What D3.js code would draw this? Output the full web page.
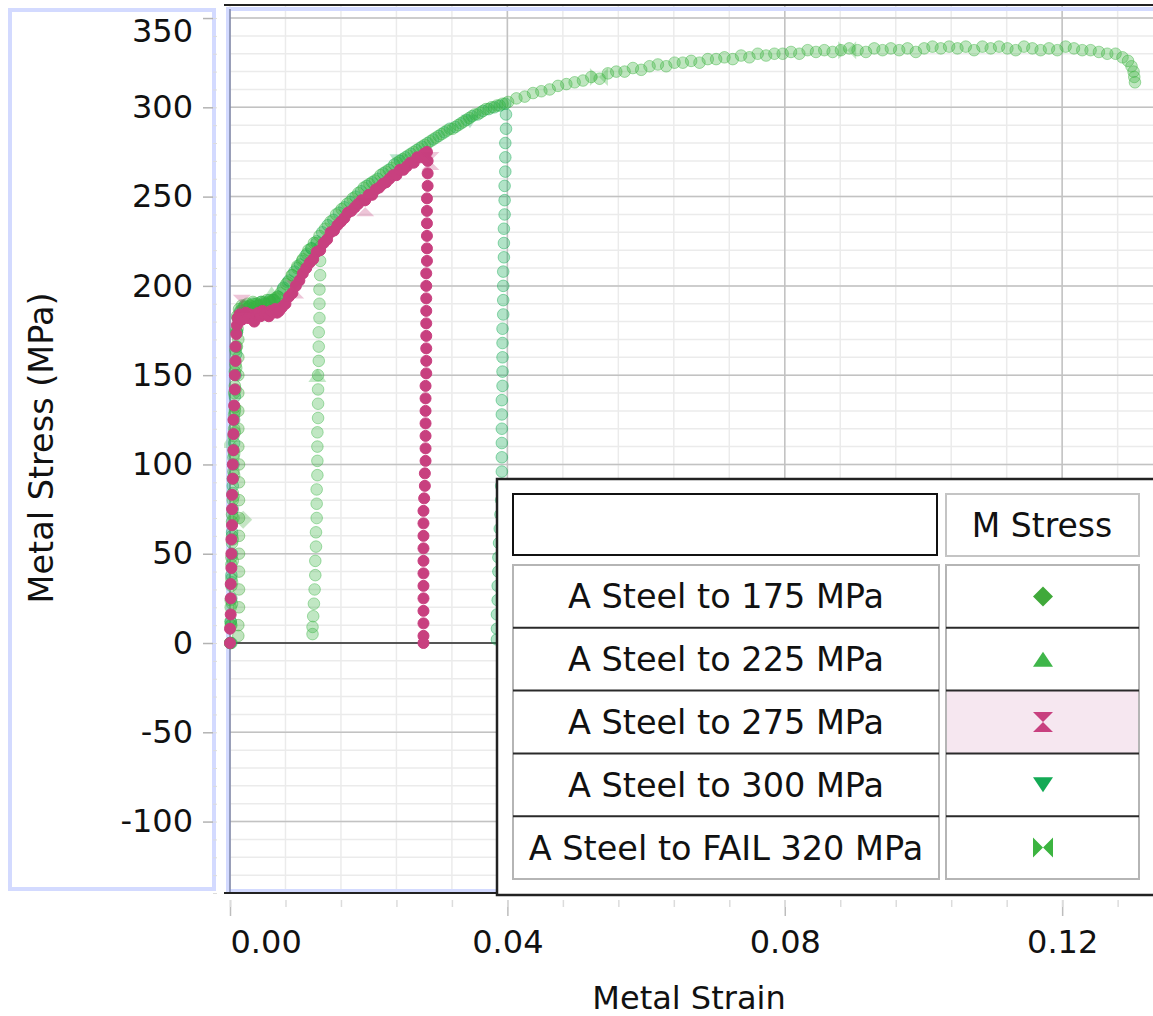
<!DOCTYPE html>
<html>
<head>
<meta charset="utf-8">
<script src="https://cdn.jsdelivr.net/npm/d3@7"></script>
<style>
    body { margin: 0; background: #fff; }
    svg { display: block; font-family: "DejaVu Sans", Verdana, sans-serif; }
</style>
</head>
<body>
<div id="chart"></div>
<script>

// ---- data (strain, stress in MPa) ----

var seriesNames = ["A Steel to 175 MPa", "A Steel to 225 MPa", "A Steel to 275 MPa",
                   "A Steel to 300 MPa", "A Steel to FAIL 320 MPa"];
var seriesColors = ["#40a93a", "#3fb64a", "#c8407f", "#13aa55", "#3cb440"];
var seriesShapes = ["diamond", "triangle", "hourglass", "triangleDown", "bowtie"];
var legendHeader = "M Stress";

var xTickValues = [0, 0.04, 0.08, 0.12];
var yTickValues = [-100, -50, 0, 50, 100, 150, 200, 250, 300, 350];

var steel175 = [
    [0.0000,0],[0.0001,12],[0.0001,24],[0.0002,36],[0.0002,48],[0.0003,60],[0.0003,72],[0.0004,84],
    [0.0005,96],[0.0005,108],[0.0006,120],[0.0007,132],[0.0007,144],[0.0008,156],[0.0009,166],[0.0010,174],
    [0.0012,170],[0.0012,160],[0.0012,150],[0.0012,140],[0.0012,130],[0.0012,120],[0.0012,110],[0.0013,100],
    [0.0013,90],[0.0013,80],[0.0013,70],[0.0013,60],[0.0013,50],[0.0013,40],[0.0013,30],[0.0013,20],
    [0.0012,10],[0.0012,4]
];

var steel225 = [
    [0.0002,0],[0.0002,10],[0.0003,22],[0.0003,34],[0.0004,46],[0.0004,58],[0.0005,70],[0.0005,82],
    [0.0006,94],[0.0006,106],[0.0007,118],[0.0007,130],[0.0008,142],[0.0009,154],[0.0010,166],[0.0011,176],
    [0.0014,185],[0.0019,188],[0.0024,187],[0.0029,189],[0.0034,188],[0.0039,190],[0.0044,189],[0.0049,191],
    [0.0054,190],[0.0059,191],[0.0064,192],[0.0069,193],
    [0.0076,198],[0.0083,202],[0.0090,206],[0.0097,210],[0.0104,214],[0.0111,218],[0.0118,221],[0.0125,224],
    [0.0130,222],
    [0.0130,214],[0.0130,206],[0.0129,198],[0.0129,190],[0.0129,182],[0.0128,174],[0.0128,166],[0.0128,158],
    [0.0127,150],[0.0127,142],[0.0127,134],[0.0127,126],[0.0126,118],[0.0126,110],[0.0126,102],[0.0126,94],
    [0.0125,86],[0.0125,78],[0.0125,70],[0.0124,62],[0.0124,54],[0.0123,46],[0.0123,38],[0.0122,30],
    [0.0121,22],[0.0120,15],[0.0119,9],[0.0119,5]
];

var steel275 = [
    [0.0000,0],[0.0000,8],[0.0001,16],[0.0001,25],[0.0001,33],[0.0002,42],[0.0002,50],[0.0002,58],
    [0.0003,66],[0.0003,75],[0.0003,83],[0.0004,92],[0.0004,100],[0.0005,108],[0.0005,117],[0.0005,125],
    [0.0006,133],[0.0007,142],[0.0007,150],[0.0008,158],[0.0008,166],[0.0009,173],[0.0010,178],
    [0.0011,182],[0.0014,184],[0.0017,181],[0.0020,183],[0.0023,185],[0.0026,182],[0.0029,184],[0.0032,183],
    [0.0035,180],[0.0038,184],[0.0041,185],[0.0044,183],[0.0047,186],[0.0050,184],[0.0053,185],[0.0056,183],
    [0.0059,186],[0.0062,185],[0.0065,187],[0.0068,185],[0.0071,186],
    [0.0075,188],[0.0080,190],[0.0085,194],[0.0090,196],[0.0095,200],[0.0100,203],[0.0105,207],[0.0110,210],
    [0.0115,213],[0.0120,215],[0.0125,219],[0.0130,220],[0.0135,224],[0.0140,226],[0.0145,230],[0.0150,231],
    [0.0155,234],[0.0160,236],[0.0165,238],[0.0170,241],[0.0175,242],[0.0180,244],[0.0185,246],[0.0190,248],
    [0.0195,248],[0.0200,251],[0.0205,251],[0.0210,254],[0.0215,255],[0.0220,257],[0.0225,258],[0.0230,260],
    [0.0235,262],[0.0240,262],[0.0245,265],[0.0250,265],[0.0255,267],[0.0260,269],[0.0265,269],[0.0270,272],
    [0.0275,272],[0.0280,274],[0.0284,275],
    [0.0285,270],[0.0285,263],[0.0285,256],[0.0284,249],[0.0284,242],[0.0284,235],[0.0284,228],[0.0284,221],
    [0.0284,214],[0.0283,207],[0.0283,200],[0.0283,193],[0.0283,186],[0.0283,179],[0.0283,172],[0.0283,165],
    [0.0283,158],[0.0283,151],[0.0282,144],[0.0282,137],[0.0282,130],[0.0282,123],[0.0282,116],[0.0282,109],
    [0.0282,102],[0.0281,95],[0.0281,88],[0.0280,81],[0.0279,74],[0.0279,67],[0.0279,60],[0.0279,53],
    [0.0279,46],[0.0279,39],[0.0279,32],[0.0279,25],[0.0279,18],[0.0279,11],[0.0279,4],[0.0279,0]
];

var steel300 = [
    [0.0001,0],[0.0001,12],[0.0002,25],[0.0002,38],[0.0003,50],[0.0003,62],[0.0004,75],[0.0004,88],
    [0.0005,100],[0.0006,112],[0.0006,125],[0.0007,138],[0.0008,150],[0.0009,162],[0.0010,174],[0.0011,182],
    [0.0015,186],[0.0021,189],[0.0027,188],[0.0033,190],[0.0039,189],[0.0045,191],[0.0051,190],[0.0057,192],
    [0.0063,192],[0.0069,194],
    [0.0077,199],[0.0085,203],[0.0093,208],[0.0101,212],[0.0109,217],[0.0117,221],[0.0125,225],[0.0133,230],
    [0.0141,234],[0.0149,237],[0.0157,241],[0.0165,244],[0.0173,247],[0.0181,250],[0.0189,253],[0.0197,256],
    [0.0205,258],[0.0213,260],[0.0221,263],[0.0229,265],[0.0237,268],[0.0245,270],[0.0253,272],[0.0261,274],
    [0.0269,276],[0.0277,278],[0.0285,280],[0.0293,282],[0.0301,284],[0.0309,286],[0.0317,288],[0.0325,289],
    [0.0333,291],[0.0341,293],[0.0349,295],[0.0357,296],[0.0365,298],[0.0373,299],[0.0381,300],[0.0389,301],
    [0.0397,302],
    [0.0398,296],[0.0398,288],[0.0397,280],[0.0397,272],[0.0397,264],[0.0396,256],[0.0396,248],[0.0396,240],
    [0.0395,232],[0.0395,224],[0.0395,216],[0.0394,208],[0.0394,200],[0.0394,192],[0.0394,184],[0.0393,176],
    [0.0393,168],[0.0393,160],[0.0393,152],[0.0393,144],[0.0392,136],[0.0392,128],[0.0392,120],[0.0392,112],
    [0.0392,104],[0.0392,96],[0.0391,88],[0.0391,80],[0.0390,72],[0.0389,64],[0.0388,56],[0.0387,48],
    [0.0387,40],[0.0386,32],[0.0386,24],[0.0385,16],[0.0385,8],[0.0385,2]
];

var steelFail = [
    [0.0000,0],[0.0001,10],[0.0001,20],[0.0002,32],[0.0002,44],[0.0003,56],[0.0003,68],[0.0004,80],
    [0.0004,92],[0.0005,104],[0.0005,116],[0.0006,128],[0.0006,140],[0.0007,152],[0.0008,164],[0.0009,175],
    [0.0010,183],
    [0.0013,187],[0.0017,189],[0.0021,188],[0.0025,190],[0.0029,189],[0.0033,191],[0.0037,190],[0.0041,189],
    [0.0045,191],[0.0049,190],[0.0053,192],[0.0057,191],[0.0061,192],[0.0065,193],[0.0069,194],
    [0.0073,196],[0.0081,201],[0.0089,206],[0.0097,211],[0.0105,215],[0.0113,220],[0.0121,224],[0.0129,228],
    [0.0137,232],[0.0145,236],[0.0153,240],[0.0161,243],[0.0169,246],[0.0177,249],[0.0185,252],[0.0193,255],
    [0.0201,257],[0.0209,259],[0.0217,262],[0.0225,264],[0.0233,266],[0.0241,269],[0.0249,271],[0.0257,273],
    [0.0265,275],[0.0273,277],[0.0281,279],[0.0289,281],[0.0297,283],[0.0305,285],[0.0313,287],[0.0321,288],
    [0.0329,290],[0.0337,292],[0.0345,294],[0.0353,296],[0.0361,297],[0.0369,299],[0.0377,300],[0.0385,301],
    [0.0393,302],[0.0401,303],
    [0.0413,305],[0.0425,306],[0.0437,308],[0.0449,309],[0.0461,310],[0.0473,312],[0.0485,313],[0.0497,314],
    [0.0509,315],[0.0521,317],[0.0533,316],[0.0545,319],[0.0557,320],[0.0569,320],[0.0581,322],[0.0593,321],
    [0.0605,323],[0.0617,324],[0.0629,323],[0.0641,325],[0.0653,325],[0.0665,326],[0.0677,325],[0.0689,327],
    [0.0701,327],[0.0713,328],[0.0725,327],[0.0737,329],[0.0749,328],[0.0761,330],[0.0773,329],[0.0785,330],
    [0.0797,330],[0.0809,331],[0.0821,330],[0.0833,332],[0.0845,331],[0.0857,332],[0.0869,331],[0.0881,332],
    [0.0893,333],[0.0905,332],[0.0917,331],[0.0929,333],[0.0941,332],[0.0953,333],[0.0965,332],[0.0977,333],
    [0.0989,331],[0.1001,333],[0.1013,334],[0.1025,333],[0.1037,334],[0.1049,333],[0.1061,334],[0.1073,332],
    [0.1085,334],[0.1097,333],[0.1109,334],[0.1121,333],[0.1133,332],[0.1145,334],[0.1157,333],[0.1169,332],
    [0.1181,333],[0.1193,332],[0.1205,334],[0.1217,333],[0.1229,332],[0.1241,332],[0.1253,331],[0.1265,330],
    [0.1277,330],[0.1287,328],[0.1295,326],[0.1300,323],[0.1303,320],[0.1304,317],[0.1305,314]
];

// the occasional shape markers that show through the circles
var marks175 = [[0.0019,69]];
var marks225 = [[0.0126,150],[0.0000,113],[0.0060,196]];
var marks275 = [[0.0017,190],[0.0094,198],[0.0195,244],[0.0289,270]];
var marks300 = [[0.0243,270],[0.0346,292]];
var marksFail = [[0.0532,317],[0.0890,332]];

var allSeries = [steel175, steel225, steel275, steel300, steelFail];
var allMarks = [marks175, marks225, marks275, marks300, marksFail];


// ---- layout ----

var width = 1153, height = 1016;
var plot = { left: 230, right: 1153, top: 5, bottom: 893 };

var svg = d3.select("#chart").append("svg")
    .attr("width", width)
    .attr("height", height);

var x = d3.scaleLinear().domain([0, 0.1331]).range([plot.left, plot.right]);
var y = d3.scaleLinear().domain([-140, 357.3]).range([plot.bottom, plot.top]);


/*
 *  Symbol paths used by the legend and the plot markers
 */
function shapePath(shape, s) {
    if (shape == "diamond") return "M0," + (-s) + "L" + s + ",0L0," + s + "L" + (-s) + ",0Z";
    if (shape == "triangle") return "M0," + (-0.75 * s) + "L" + s + "," + (0.75 * s) + "L" + (-s) + "," + (0.75 * s) + "Z";
    if (shape == "triangleDown") return "M" + (-s) + "," + (-0.75 * s) + "L" + s + "," + (-0.75 * s) + "L0," + (0.75 * s) + "Z";
    if (shape == "hourglass") return "M" + (-s) + "," + (-s) + "L" + s + "," + (-s) + "L0,0Z" +
                                     "M" + (-s) + "," + s + "L" + s + "," + s + "L0,0Z";
    // bowtie
    return "M" + (-s) + "," + (-s) + "L" + (-s) + "," + s + "L0,0Z" +
           "M" + s + "," + (-s) + "L" + s + "," + s + "L0,0Z";
}


// ---- grid ----

var minorX = d3.range(0, 0.1331, 0.008);
var minorY = d3.range(-140, 357, 10);

var grid = svg.append("g");

grid.selectAll(".gx-minor").data(minorX).enter().append("line")
    .attr("x1", function (d) { return x(d); }).attr("x2", function (d) { return x(d); })
    .attr("y1", plot.top).attr("y2", plot.bottom)
    .attr("stroke", "#ebebeb").attr("stroke-width", 1.5);

grid.selectAll(".gy-minor").data(minorY).enter().append("line")
    .attr("x1", plot.left).attr("x2", plot.right)
    .attr("y1", function (d) { return y(d); }).attr("y2", function (d) { return y(d); })
    .attr("stroke", "#ebebeb").attr("stroke-width", 1.5);

grid.selectAll(".gx-major").data(xTickValues.slice(1)).enter().append("line")
    .attr("x1", function (d) { return x(d); }).attr("x2", function (d) { return x(d); })
    .attr("y1", plot.top).attr("y2", plot.bottom)
    .attr("stroke", "#c2c2c2").attr("stroke-width", 1.5);

grid.selectAll(".gy-major").data(yTickValues.filter(function (d) { return d != 0; })).enter().append("line")
    .attr("x1", plot.left).attr("x2", plot.right)
    .attr("y1", function (d) { return y(d); }).attr("y2", function (d) { return y(d); })
    .attr("stroke", "#c2c2c2").attr("stroke-width", 1.5);

// zero reference line
grid.append("line")
    .attr("x1", plot.left).attr("x2", plot.right)
    .attr("y1", y(0)).attr("y2", y(0))
    .attr("stroke", "#222").attr("stroke-width", 1.5);


// ---- frame ----

svg.append("rect")
    .attr("x", 228).attr("y", 9)
    .attr("width", 940).attr("height", 882)
    .attr("fill", "none").attr("stroke", "#d3daff").attr("stroke-width", 4);

svg.append("rect")
    .attr("x", 10).attr("y", 10)
    .attr("width", 204).attr("height", 879)
    .attr("fill", "none").attr("stroke", "#d3daff").attr("stroke-width", 4);

svg.append("line")
    .attr("x1", plot.left).attr("x2", plot.left)
    .attr("y1", 9).attr("y2", plot.bottom)
    .attr("stroke", "#7d84a6").attr("stroke-width", 1.5);

svg.append("line")
    .attr("x1", 224).attr("x2", width)
    .attr("y1", plot.top).attr("y2", plot.top)
    .attr("stroke", "#222").attr("stroke-width", 2);

svg.append("line")
    .attr("x1", 224).attr("x2", width)
    .attr("y1", plot.bottom).attr("y2", plot.bottom)
    .attr("stroke", "#222").attr("stroke-width", 2);


// ---- data marks ----

svg.append("clipPath").attr("id", "plotClip")
    .append("rect")
    .attr("x", 224).attr("y", plot.top)
    .attr("width", width - 224).attr("height", plot.bottom - plot.top);

var marksLayer = svg.append("g").attr("clip-path", "url(#plotClip)");

// green series first, the selected magenta series on top
[0, 1, 3, 4, 2].forEach(function (i) {
    var selected = (i == 2);
    var g = marksLayer.append("g");

    g.selectAll("circle").data(allSeries[i]).enter().append("circle")
        .attr("cx", function (d) { return x(d[0]); })
        .attr("cy", function (d) { return y(d[1]); })
        .attr("r", selected ? 5.5 : 5.8)
        .attr("fill", seriesColors[i])
        .attr("fill-opacity", selected ? 1 : 0.33)
        .attr("stroke", seriesColors[i])
        .attr("stroke-opacity", selected ? 1 : 0.45)
        .attr("stroke-width", 1);

    g.selectAll("path").data(allMarks[i]).enter().append("path")
        .attr("transform", function (d) { return "translate(" + x(d[0]) + "," + y(d[1]) + ")"; })
        .attr("d", shapePath(seriesShapes[i], 9))
        .attr("fill", seriesColors[i])
        .attr("fill-opacity", 0.3);
});


// ---- axes ----

var yAxis = svg.append("g")
    .attr("transform", "translate(213,0)")
    .call(d3.axisLeft(y).tickValues(yTickValues).tickSize(10).tickPadding(10)
        .tickFormat(function (d) { return String(d); }));

yAxis.select(".domain").remove();
yAxis.selectAll(".tick line").attr("stroke", "#b3b3b3").attr("stroke-width", 1.5);
yAxis.selectAll(".tick text")
    .attr("font-size", 32).attr("font-family", "DejaVu Sans").attr("fill", "#111")
    .attr("y", function (d) { return d == 350 ? 13 : 0; });

var yMinor = svg.append("g")
    .attr("transform", "translate(217,0)")
    .call(d3.axisLeft(y).tickValues(minorY).tickSize(4).tickFormat(""));
yMinor.select(".domain").remove();
yMinor.selectAll(".tick line").attr("stroke", "#dcdcdc");

var xAxis = svg.append("g")
    .attr("transform", "translate(0,900)")
    .call(d3.axisBottom(x).tickValues(xTickValues).tickSize(16).tickPadding(14)
        .tickFormat(d3.format(".2f")));

xAxis.select(".domain").remove();
xAxis.selectAll(".tick line").attr("stroke", "#bdbdbd").attr("stroke-width", 1.5);
xAxis.selectAll(".tick text")
    .attr("font-size", 32).attr("font-family", "DejaVu Sans").attr("fill", "#111")
    .attr("text-anchor", function (d) { return d == 0 ? "start" : "middle"; });

var xMinor = svg.append("g")
    .attr("transform", "translate(0,900)")
    .call(d3.axisBottom(x).tickValues(minorX).tickSize(7).tickFormat(""));
xMinor.select(".domain").remove();
xMinor.selectAll(".tick line").attr("stroke", "#dcdcdc").attr("stroke-width", 1.5);

svg.append("text")
    .attr("x", 689).attr("y", 1009)
    .attr("text-anchor", "middle")
    .attr("font-size", 32).attr("fill", "#111")
    .text("Metal Strain");

svg.append("text")
    .attr("transform", "translate(53,448) rotate(-90)")
    .attr("text-anchor", "middle")
    .attr("font-size", 33.5).attr("fill", "#111")
    .text("Metal Stress (MPa)");


// ---- legend table ----

var legend = svg.append("g");

legend.append("rect")
    .attr("x", 497).attr("y", 479)
    .attr("width", 700).attr("height", 416)
    .attr("fill", "#fff").attr("stroke", "#222").attr("stroke-width", 2.5);

// header cells
legend.append("rect")
    .attr("x", 513).attr("y", 494).attr("width", 424).attr("height", 61)
    .attr("fill", "#fff").attr("stroke", "#111").attr("stroke-width", 2);

legend.append("rect")
    .attr("x", 946).attr("y", 494).attr("width", 193).attr("height", 62)
    .attr("fill", "#fff").attr("stroke", "#c4c4c4").attr("stroke-width", 2);

legend.append("text")
    .attr("x", 1042).attr("y", 525)
    .attr("dy", "0.36em")
    .attr("text-anchor", "middle")
    .attr("font-size", 33).attr("fill", "#111")
    .text(legendHeader);

var rows = d3.scaleBand().domain(seriesNames).range([565, 879]);

// highlighted cell of the selected series
legend.append("rect")
    .attr("x", 946).attr("y", rows(seriesNames[2]))
    .attr("width", 193).attr("height", rows.bandwidth())
    .attr("fill", "#f6e7f0");

// column outlines
[[513, 426], [946, 193]].forEach(function (c) {
    legend.append("rect")
        .attr("x", c[0]).attr("y", 565).attr("width", c[1]).attr("height", 314)
        .attr("fill", "none").attr("stroke", "#b5b5b5").attr("stroke-width", 2);
});

// row dividers
legend.selectAll(".row-line").data(seriesNames.slice(1)).enter().append("g")
    .each(function (d) {
        var yy = rows(d);
        d3.select(this).append("line")
            .attr("x1", 513).attr("x2", 939).attr("y1", yy).attr("y2", yy)
            .attr("stroke", "#2a2a2a").attr("stroke-width", 2);
        d3.select(this).append("line")
            .attr("x1", 946).attr("x2", 1139).attr("y1", yy).attr("y2", yy)
            .attr("stroke", "#2a2a2a").attr("stroke-width", 2);
    });

legend.selectAll(".row-label").data(seriesNames).enter().append("text")
    .attr("x", 726)
    .attr("y", function (d) { return rows(d) + rows.bandwidth() / 2; })
    .attr("dy", "0.36em")
    .attr("text-anchor", "middle")
    .attr("font-size", 33.5).attr("fill", "#111")
    .text(function (d) { return d; });

legend.selectAll(".row-symbol").data(seriesNames).enter().append("path")
    .attr("transform", function (d) { return "translate(1043," + (rows(d) + rows.bandwidth() / 2) + ")"; })
    .attr("d", function (d, i) { return shapePath(seriesShapes[i], 10); })
    .attr("fill", function (d, i) { return seriesColors[i]; });

</script>
</body>
</html>
